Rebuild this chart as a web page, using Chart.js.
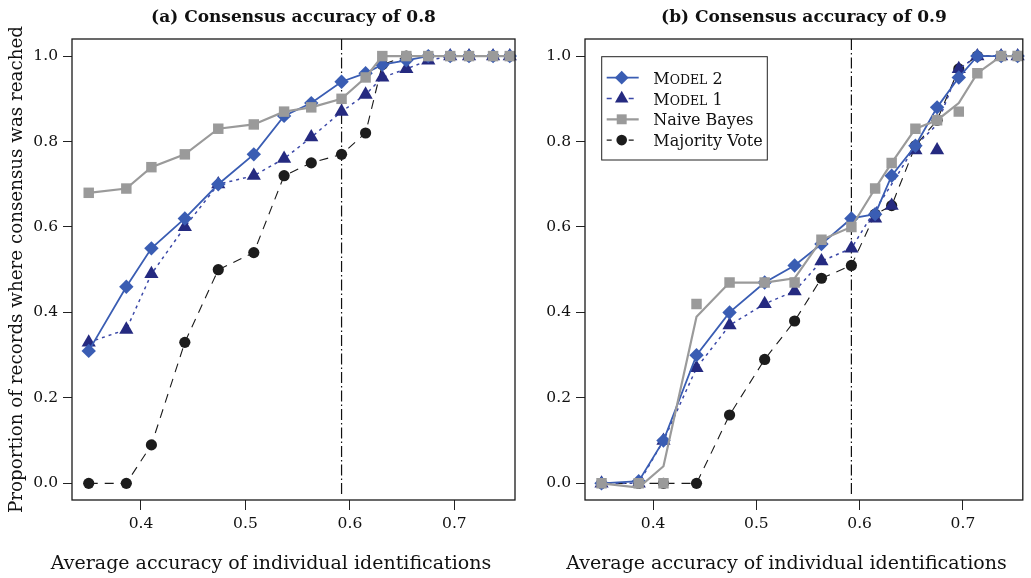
<!DOCTYPE html>
<html><head><meta charset="utf-8">
<script src="https://cdn.jsdelivr.net/npm/chart.js@4.4.1/dist/chart.umd.min.js"></script>
<style>
html,body{margin:0;padding:0;background:#fff;width:1031px;height:578px;overflow:hidden}
#wa{position:absolute;left:0;top:0;width:542px;height:578px}
#wb{position:absolute;left:542px;top:0;width:489px;height:578px}
</style></head><body>
<div id="wa"><canvas id="ca" width="542" height="578"></canvas></div>
<div id="wb"><canvas id="cb" width="489" height="578"></canvas></div>
<script>
// ---- data ----
const xAcc = [0.350, 0.386, 0.410, 0.442, 0.474, 0.508, 0.537, 0.563, 0.592, 0.615, 0.631, 0.654, 0.675, 0.696, 0.714, 0.737, 0.753];
const xTicks = [0.4, 0.5, 0.6, 0.7];
const yTicks = [0.0, 0.2, 0.4, 0.6, 0.8, 1.0];
const vLine = 0.592;

const model2A     = [0.31, 0.46, 0.55, 0.62, 0.70, 0.77, 0.86, 0.89, 0.94, 0.96, 0.98, 0.99, 1.00, 1.00, 1.00, 1.00, 1.00];
const model1A     = [0.33, 0.36, 0.49, 0.60, 0.70, 0.72, 0.76, 0.81, 0.87, 0.91, 0.95, 0.97, 0.99, 1.00, 1.00, 1.00, 1.00];
const naiveBayesA = [0.68, 0.69, 0.74, 0.77, 0.83, 0.84, 0.87, 0.88, 0.90, 0.95, 1.00, 1.00, 1.00, 1.00, 1.00, 1.00, 1.00];
const majorityA   = [0.00, 0.00, 0.09, 0.33, 0.50, 0.54, 0.72, 0.75, 0.77, 0.82, 0.98, 1.00, 1.00, 1.00, 1.00, 1.00, 1.00];

const model2B         = [0.00, 0.005, 0.10, 0.30, 0.40, 0.47, 0.51, 0.56, 0.62, 0.63, 0.72, 0.79, 0.88, 0.95, 1.00, 1.00, 1.00];
const model1B         = [0.00, 0.00, 0.10, 0.27, 0.37, 0.42, 0.45, 0.52, 0.55, 0.62, 0.65, 0.78, 0.78, 0.97, 1.00, 1.00, 1.00];
const model1LineB     = [0.00, 0.00, 0.10, 0.27, 0.37, 0.42, 0.45, 0.52, 0.55, 0.64, 0.70, 0.79, 0.84, 0.97, 1.00, 1.00, 1.00];
const naiveBayesB     = [0.00, 0.00, 0.00, 0.42, 0.47, 0.47, 0.47, 0.57, 0.60, 0.69, 0.75, 0.83, 0.85, 0.87, 0.96, 1.00, 1.00];
const naiveBayesLineB = [0.00, -0.01, 0.04, 0.39, 0.47, 0.47, 0.48, 0.57, 0.60, 0.69, 0.75, 0.83, 0.85, 0.89, 0.96, 1.00, 1.00];
const majorityB       = [0.00, 0.00, 0.00, 0.00, 0.16, 0.29, 0.38, 0.48, 0.51, 0.63, 0.65, 0.79, 0.85, 0.97, 1.00, 1.00, 1.00];

// ---- styles ----
const FONT = "'DejaVu Serif', serif";
const ST = {
  m2: {line:'#3a5db3', fill:'#3a5db3', dash:[], lw:1.8, pt:'rectRot', r:7.2},
  m1: {line:'#3b48a8', fill:'#252a80', dash:[3,4], lw:1.5, pt:'triangle', r:8.2},
  nb: {line:'#9a9a9a', fill:'#9a9a9a', dash:[], lw:2.2, pt:'rect', r:7.4},
  mv: {line:'#1a1a1a', fill:'#1c1c1c', dash:[9,7], lw:1.1, pt:'circle', r:5.6}
};
const pts = arr => xAcc.map((x, i) => ({x, y: arr[i]}));
function ds(label, arr, s, mode) { // mode: 'both' | 'points' | 'line'
  return {
    label, data: pts(arr), showLine: mode !== 'points',
    borderColor: s.line, backgroundColor: s.fill, borderWidth: s.lw, borderDash: s.dash,
    pointStyle: s.pt, pointRadius: mode === 'line' ? 0 : s.r, pointHoverRadius: mode === 'line' ? 0 : s.r,
    pointBorderWidth: 0, pointBackgroundColor: s.fill, tension: 0, clip: 12
  };
}

function drawLegend(ctx, a) {
  const bx = a.left + 16.7, by = a.top + 17.7, bw = 165.6, bh = 103.3;
  ctx.save();
  ctx.fillStyle = '#fff'; ctx.fillRect(bx, by, bw, bh);
  ctx.strokeStyle = '#222'; ctx.lineWidth = 1; ctx.setLineDash([]);
  ctx.strokeRect(bx, by, bw, bh);
  const rows = [
    {s: ST.m2, parts: [['M',16],['ODEL',12.5],[' 2',16]]},
    {s: ST.m1, parts: [['M',16],['ODEL',12.5],[' 1',16]]},
    {s: ST.nb, parts: [['Naive Bayes',16]]},
    {s: ST.mv, parts: [['Majority Vote',16]]}
  ];
  rows.forEach((row, i) => {
    const y = by + 21 + i * 20.8;
    ctx.strokeStyle = row.s.line; ctx.lineWidth = row.s.lw;
    ctx.setLineDash(row.s.dash.length ? [5, 6] : []);
    ctx.beginPath(); ctx.moveTo(bx + 5, y); ctx.lineTo(bx + 37, y); ctx.stroke();
    ctx.setLineDash([]);
    ctx.fillStyle = row.s.fill;
    Chart.helpers.drawPoint(ctx, {pointStyle: row.s.pt, radius: row.s.r * 0.95, rotation: 0, borderWidth: 0}, bx + 20, y);
    ctx.fillStyle = '#111'; ctx.textAlign = 'left'; ctx.textBaseline = 'alphabetic';
    let tx = bx + 51.6;
    row.parts.forEach(([t, sz]) => {
      ctx.font = sz + 'px ' + FONT;
      ctx.fillText(t, tx, y + 6);
      tx += ctx.measureText(t).width;
    });
  });
  ctx.restore();
}

const decor = {
  id: 'decor',
  beforeDatasetsDraw(chart, args, o) {
    const {ctx, chartArea: a} = chart;
    const px = chart.scales.x.getPixelForValue(vLine);
    ctx.save();
    ctx.strokeStyle = '#111'; ctx.lineWidth = 1.2; ctx.setLineDash([11, 3, 1.5, 3]);
    ctx.beginPath(); ctx.moveTo(px, a.top); ctx.lineTo(px, a.bottom - 4); ctx.stroke();
    ctx.restore();
  },
  afterDraw(chart, args, o) {
    const {ctx, chartArea: a} = chart;
    ctx.save();
    ctx.strokeStyle = '#1a1a1a'; ctx.lineWidth = 1.3; ctx.setLineDash([]);
    ctx.strokeRect(a.left, a.top, a.right - a.left, a.bottom - a.top);
    ctx.fillStyle = '#111'; ctx.textAlign = 'center'; ctx.textBaseline = 'middle';
    ctx.font = 'bold 17px ' + FONT;
    ctx.fillText(o.title, (a.left + a.right) / 2, 18);
    ctx.font = '19px ' + FONT;
    ctx.fillText(o.xTitle, chart.width / 2, 564);
    if (o.yTitle) {
      ctx.save();
      ctx.font = '18.3px ' + FONT;
      ctx.translate(17, (a.top + a.bottom) / 2);
      ctx.rotate(-Math.PI / 2);
      ctx.fillText(o.yTitle, 0, 0);
      ctx.restore();
    }
    ctx.restore();
    if (o.legend) drawLegend(ctx, a);
  }
};

function makePanel(id, datasets, yWidth, rightPad, opts) {
  return new Chart(document.getElementById(id), {
    type: 'scatter',
    data: {datasets},
    options: {
      responsive: false, animation: false, events: [],
      layout: {padding: {top: 39, right: rightPad, left: 0, bottom: 0}},
      plugins: {legend: {display: false}, tooltip: {enabled: false}, title: {display: false}, decor: opts},
      scales: {
        x: {
          type: 'linear', min: 0.334, max: 0.758,
          afterBuildTicks: s => { s.ticks = xTicks.map(v => ({value: v})); },
          afterFit: s => { s.height = 78; },
          ticks: {callback: v => Number(v).toFixed(1), font: {family: FONT, size: 15.5}, color: '#111', padding: 5, maxRotation: 0},
          grid: {display: true, drawOnChartArea: false, drawTicks: true, tickLength: 10, color: '#222', lineWidth: 1},
          border: {display: false}
        },
        y: {
          type: 'linear', min: -0.039, max: 1.04,
          afterBuildTicks: s => { s.ticks = yTicks.map(v => ({value: v})); },
          afterFit: s => { s.width = yWidth; },
          ticks: {callback: v => Number(v).toFixed(1), font: {family: FONT, size: 15.5}, color: '#111', padding: 5},
          grid: {display: true, drawOnChartArea: false, drawTicks: true, tickLength: 9, color: '#222', lineWidth: 1},
          border: {display: false}
        }
      }
    },
    plugins: [decor]
  });
}

makePanel('ca', [
  ds('Naive Bayes', naiveBayesA, ST.nb, 'both'),
  ds('Model 2', model2A, ST.m2, 'both'),
  ds('Model 1', model1A, ST.m1, 'both'),
  ds('Majority Vote', majorityA, ST.mv, 'both')
], 72, 27, {
  title: '(a) Consensus accuracy of 0.8',
  xTitle: 'Average accuracy of individual identifications',
  yTitle: 'Proportion of records where consensus was reached'
});

makePanel('cb', [
  ds('Naive Bayes', naiveBayesB, ST.nb, 'points'),
  ds('Naive Bayes line', naiveBayesLineB, ST.nb, 'line'),
  ds('Model 2', model2B, ST.m2, 'both'),
  ds('Model 1', model1B, ST.m1, 'points'),
  ds('Model 1 line', model1LineB, ST.m1, 'line'),
  ds('Majority Vote', majorityB, ST.mv, 'both')
], 43, 3, {
  title: '(b) Consensus accuracy of 0.9',
  xTitle: 'Average accuracy of individual identifications',
  legend: true
});
</script>
</body></html>
